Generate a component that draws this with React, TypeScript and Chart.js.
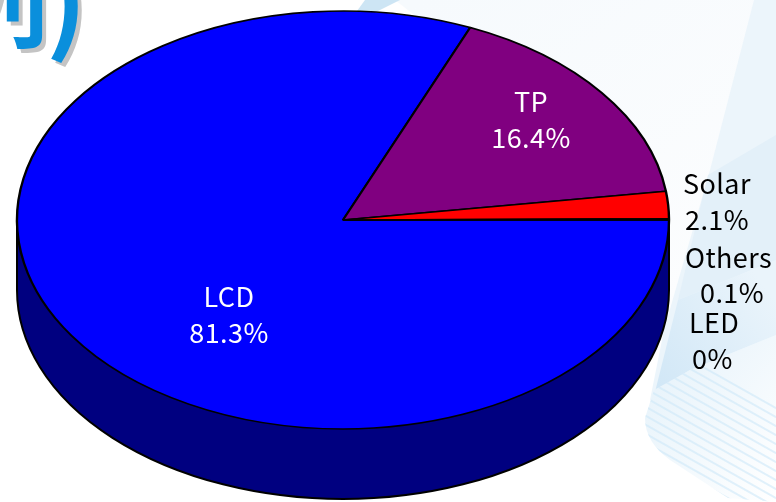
import React, { useEffect, useRef } from "react";
import { Chart, registerables } from "chart.js";

Chart.register(...registerables);

const categories = ["LCD", "TP", "Solar", "Others", "LED"];
const shares = [81.3, 16.4, 2.1, 0.1, 0];
const sliceColors = ["#0000ff", "#800080", "#ff0000", "#ffff00", "#00ffff"];
const titleChar = "列";
const titleParen = ")";

// Layout only: [label x, label y, value x, value y, align]
const FONT = '"Noto Sans CJK TC", "Noto Sans", sans-serif';
const labelPlaces: Record<string, { lx: number; ly: number; vx: number; vy: number; a: CanvasTextAlign; c: string }> = {
  LCD: { lx: 229, ly: 297, vx: 229, vy: 333, a: "center", c: "#ffffff" },
  TP: { lx: 531, ly: 102, vx: 531, vy: 138, a: "center", c: "#ffffff" },
  Solar: { lx: 683, ly: 184, vx: 685, vy: 220, a: "left", c: "#000000" },
  Others: { lx: 685, ly: 258, vx: 700, vy: 293, a: "left", c: "#000000" },
  LED: { lx: 689, ly: 323, vx: 692, vy: 359, a: "left", c: "#000000" },
};

const RX = 326;
const RY = 209;
const DEPTH = 70;

function poly(ctx: CanvasRenderingContext2D, pts: number[][], fill: string | CanvasGradient) {
  ctx.beginPath();
  pts.forEach(([x, y], i) => (i ? ctx.lineTo(x, y) : ctx.moveTo(x, y)));
  ctx.closePath();
  ctx.fillStyle = fill;
  ctx.fill();
}

const backdrop = {
  id: "backdrop",
  beforeDraw(chart: any) {
    const ctx: CanvasRenderingContext2D = chart.ctx;
    ctx.save();
    ctx.fillStyle = "#ffffff";
    ctx.fillRect(0, 0, 776, 502);
    // pale sweep
    const g = ctx.createLinearGradient(420, 0, 640, 330);
    g.addColorStop(0, "#f6fafd");
    g.addColorStop(1, "#fcfdfe");
    poly(ctx, [[395, 0], [776, 0], [776, 340], [650, 340], [650, 200]], g);
    // small band above the pie
    poly(ctx, [[357, 11], [365, 0], [400, 0], [378, 11]], "#cde5f4");
    // main fan
    poly(ctx, [[754, 0], [776, 0], [776, 360], [650, 400], [664, 330], [710, 170]], "#ecf5fb");
    poly(ctx, [[708, 175], [776, 135], [776, 260], [678, 300]], "#e3f0f9");
    const band = ctx.createLinearGradient(650, 400, 776, 300);
    band.addColorStop(0, "#cfe6f6");
    band.addColorStop(1, "#eaf4fb");
    poly(ctx, [[678, 300], [776, 260], [776, 335], [690, 370], [655, 392]], band);
    // stripes of the lower fan
    ctx.beginPath();
    ctx.moveTo(645, 418);
    ctx.lineTo(654, 390);
    ctx.lineTo(690, 370);
    ctx.lineTo(776, 335);
    ctx.lineTo(776, 502);
    ctx.lineTo(728, 498);
    ctx.lineTo(670, 460);
    ctx.quadraticCurveTo(645, 442, 645, 418);
    ctx.closePath();
    const lower = ctx.createLinearGradient(650, 400, 776, 500);
    lower.addColorStop(0, "#e9f4fb");
    lower.addColorStop(1, "#ffffff");
    ctx.fillStyle = lower;
    ctx.fill();
    ctx.clip();
    ctx.strokeStyle = "rgba(205,232,248,0.6)";
    ctx.lineWidth = 2;
    for (let k = -6; k < 22; k++) {
      ctx.beginPath();
      ctx.moveTo(630, 380 + k * 9);
      ctx.lineTo(790, 470 + k * 9);
      ctx.stroke();
    }
    ctx.restore();

    // cropped heading at the top left
    ctx.save();
    ctx.textBaseline = "alphabetic";
    ctx.textAlign = "right";
    ctx.font = `bold 100px ${FONT}`;
    ctx.fillStyle = "#c4c4c4";
    ctx.fillText(titleChar, 53, 44);
    ctx.fillStyle = "#0a8fdc";
    ctx.fillText(titleChar, 49, 40);
    ctx.font = `bold 110px ${FONT}`;
    ctx.fillStyle = "#c4c4c4";
    ctx.fillText(titleParen, 91, 45);
    ctx.fillStyle = "#0a8fdc";
    ctx.fillText(titleParen, 87, 41);
    ctx.restore();
  },
  beforeDatasetsDraw(chart: any) {
    const ctx: CanvasRenderingContext2D = chart.ctx;
    const arc = chart.getDatasetMeta(0).data[0];
    const { x, y, outerRadius } = arc.getProps(["x", "y", "outerRadius"], true);
    // wall of the disc
    ctx.save();
    ctx.beginPath();
    ctx.moveTo(x - RX, y);
    ctx.lineTo(x - RX, y + DEPTH);
    ctx.ellipse(x, y + DEPTH, RX, RY, 0, Math.PI, 0, true);
    ctx.lineTo(x + RX, y);
    ctx.closePath();
    ctx.fillStyle = "#000080";
    ctx.strokeStyle = "#000000";
    ctx.lineWidth = 2;
    ctx.fill();
    ctx.stroke();
    ctx.restore();
    // squash the circular pie into the ellipse of the lid
    ctx.save();
    ctx.translate(x, y);
    ctx.scale(RX / outerRadius, RY / outerRadius);
    ctx.translate(-x, -y);
  },
  afterDatasetsDraw(chart: any) {
    const ctx: CanvasRenderingContext2D = chart.ctx;
    ctx.restore();
    ctx.save();
    ctx.font = `27px ${FONT}`;
    ctx.textBaseline = "middle";
    (ctx as any).letterSpacing = "0.4px";
    categories.forEach((name, i) => {
      const p = labelPlaces[name];
      ctx.textAlign = p.a;
      ctx.fillStyle = p.c;
      ctx.fillText(name, p.lx, p.ly);
      ctx.fillText(`${shares[i]}%`, p.vx, p.vy);
    });
    ctx.restore();
  },
};

export default function App() {
  const ref = useRef<HTMLCanvasElement>(null);
  useEffect(() => {
    const chart = new Chart(ref.current!, {
      type: "pie",
      data: {
        labels: categories,
        datasets: [
          {
            data: shares,
            backgroundColor: sliceColors,
            borderColor: "#000000",
            borderWidth: 1.6,
            clip: false,
          } as any,
        ],
      },
      options: {
        responsive: false,
        animation: false,
        rotation: 90,
        layout: { padding: { top: 0, left: 0, right: 90, bottom: 62 } },
        plugins: { legend: { display: false }, tooltip: { enabled: false }, title: { display: false } },
      },
      plugins: [backdrop],
    });
    return () => chart.destroy();
  }, []);
  return (
    <div style={{ position: "fixed", left: 0, top: 0, width: 776, height: 502, overflow: "hidden" }}>
      <canvas ref={ref} width={776} height={502} style={{ display: "block" }} />
    </div>
  );
}
